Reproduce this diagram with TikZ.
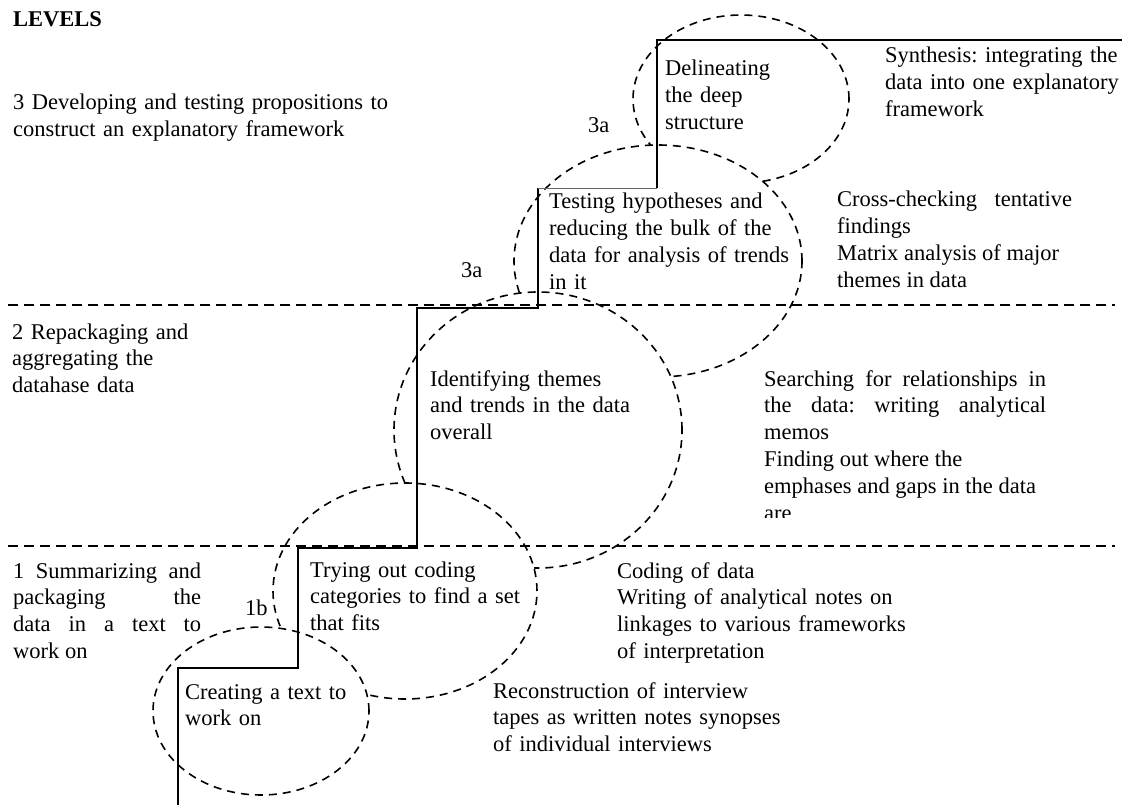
\documentclass[tikz,border=0pt]{standalone}
\usepackage{fontspec}
\setmainfont{Liberation Serif}
\usetikzlibrary{shapes.geometric}
\frenchspacing

\begin{document}
\begin{tikzpicture}[x=1pt,y=-1pt,
    txt/.style={anchor=base west,inner sep=0pt,font=\fontsize{22.5}{26.8}\selectfont,align=left},
    ring/.style={ellipse,draw,fill=white,inner sep=0pt,line width=1.6pt,dash pattern=on 8pt off 6pt},
    stair/.style={line width=2.2pt},
    level/.style={line width=1.6pt,dash pattern=on 10pt off 6pt}]
    \useasboundingbox (0,0) rectangle (1124,805);
    % Stage circles, back to front
    \node[ring,minimum width=216pt,minimum height=168pt] (s5) at (741,99) {};
    \node[ring,minimum width=288pt,minimum height=232pt] (s4) at (658,261) {};
    \node[ring,minimum width=288pt,minimum height=276pt] (s3) at (538,430) {};
    \node[ring,minimum width=264pt,minimum height=216pt] (s2) at (405,591) {};
    \node[ring,minimum width=216pt,minimum height=168pt] (s1) at (261,711) {};
    % Level boundaries
    \draw[level] (8,305) -- (1115,305);
    \draw[level] (8,546) -- (1115,546);
    % Staircase
    \draw[stair] (178,805) |- (298,668) |- (417,548) |- (538,308) -- (538,188);
    \draw[line width=0.8pt,black!60] (538,188) -- (657,188);
    \draw[stair] (657,188) -- (657,40) -- (1122,40);
    % Levels
    \node[txt,font=\fontsize{22.5}{26.8}\selectfont\bfseries] (lv) at (13,27) {LEVELS};
    \node[txt,text width=420pt] (l3) at (13,110) {\hangindent=23pt\hangafter=1 3 Developing and testing propositions to\newline construct an explanatory framework};
    \node[txt,text width=400pt] (l2) at (12,339) {2 Repackaging and\\aggregating the\\datahase data};
    \node[txt,text width=188pt,align=justify] (l1) at (13,578) {\hangindent=22pt\hangafter=1 1 Summarizing and\linebreak packaging the\linebreak data in a text to\linebreak work on};
    % Step marks
    \node[txt] (m1) at (245,615) {1b};
    \node[txt] (m2) at (461,277) {3a};
    \node[txt] (m3) at (588,133) {3a};
    % Stages
    \node[txt,text width=200pt] (t1) at (185,699) {Creating a text to\\work on};
    \node[txt,text width=240pt] (t2) at (310,577) {Trying out coding\\categories to find a set\\that fits};
    \node[txt,text width=240pt] (t3) at (430,386) {Identifying themes\\and trends in the data\\overall};
    \node[txt,text width=260pt] (t4) at (549,209) {Testing hypotheses and\\reducing the bulk of the\\data for analysis of trends\\in it};
    \node[txt,text width=200pt] (t5) at (665,76) {Delineating\\the deep\\structure};
    % Activities
    \node[txt,text width=330pt] (a1) at (493,698) {Reconstruction of interview\\tapes as written notes synopses\\of individual interviews};
    \node[txt,text width=300pt] (a2) at (617,578) {Coding of data\\Writing of analytical notes on\\linkages to various frameworks\\of interpretation};
    \begin{scope}
      \clip (700,300) rectangle (1124,517);
      \node[txt,text width=282pt,align=justify] (a3) at (764,386) {Searching for relationships in\linebreak the data: writing analytical\linebreak memos\newline Finding out where the\newline emphases and gaps in the data\newline are};
    \end{scope}
    \node[txt,text width=235pt,align=justify] (a4) at (837,207) {Cross-checking tentative\linebreak findings\newline Matrix analysis of major\newline themes in data};
    \node[txt,text width=250pt] (a5) at (885,63) {Synthesis: integrating the\\data into one explanatory\\framework};
\end{tikzpicture}
\end{document}
